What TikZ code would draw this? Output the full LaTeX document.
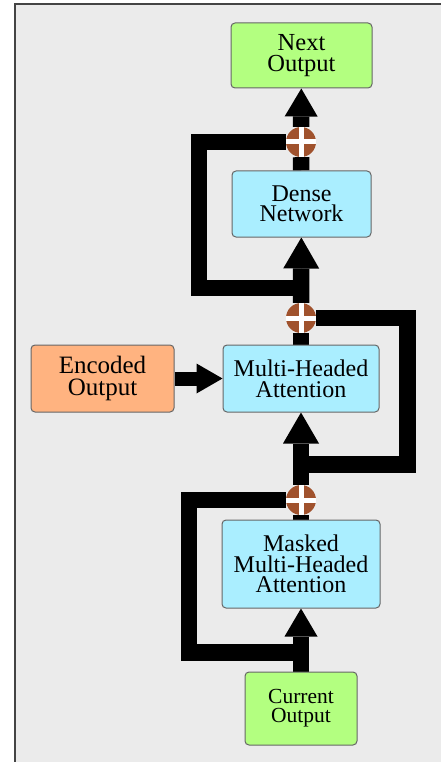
\documentclass[tikz,border=0pt]{standalone}
\usepackage{fontspec}
\setmainfont{Liberation Serif}
\newfontfamily\boxfont{Liberation Serif}
\usetikzlibrary{arrows.meta}
\definecolor{bgcol}{HTML}{EBEBEB}
\definecolor{framecol}{HTML}{444444}
\definecolor{greenbox}{HTML}{B3FF80}
\definecolor{bluebox}{HTML}{AAEEFF}
\definecolor{orangebox}{HTML}{FFB380}
\definecolor{plusbrown}{HTML}{A0522D}
\definecolor{boxrim}{HTML}{666666}
\pgfdeclarelayer{back}
\pgfsetlayers{back,main}
\begin{document}
\begin{tikzpicture}[x=1pt,y=-1pt,
  box/.style={draw=boxrim, line width=1pt, rounded corners=4pt, inner sep=0pt, align=center, anchor=center},
  greenb/.style={box, fill=greenbox},
  blueb/.style={box, fill=bluebox},
  orangeb/.style={box, fill=orangebox},
  flow/.style={line width=16.5pt, line join=miter},
  bigarrow/.style={flow, -{Triangle[length=31pt,width=36pt,line width=0pt]}},
  smallarrow/.style={flow, -{Triangle[length=28pt,width=33pt,line width=0pt]}},
  sidearrow/.style={line width=14pt, -{Triangle[length=26pt,width=30pt,line width=0pt]}},
  plusc/.style={circle, fill=plusbrown, minimum size=30pt, inner sep=0pt},
  crossbar/.style={white, line width=5pt}
]
\useasboundingbox (0,0) rectangle (440,762);
\clip (0,0) rectangle (440,762);

% boxes
\node[greenb, minimum width=141pt, minimum height=65pt, font=\boxfont\fontsize{24.5}{21.5}\selectfont] (next) at (301.5,55.5) {Next\\Output};
\node[blueb, minimum width=139pt, minimum height=66pt, font=\boxfont\fontsize{24}{20.5}\selectfont] (dense) at (301.5,204) {Dense\\Network};
\node[blueb, minimum width=156pt, minimum height=67pt, font=\boxfont\fontsize{24}{21}\selectfont] (mha) at (301,378.5) {Multi-Headed\\Attention};
\node[orangeb, minimum width=143pt, minimum height=67pt, font=\boxfont\fontsize{25}{21.5}\selectfont] (enc) at (102.5,378.5) {Encoded\\Output};
\node[blueb, minimum width=158pt, minimum height=88pt, font=\boxfont\fontsize{24}{20.5}\selectfont] (masked) at (301,564) {Masked\\Multi-Headed\\Attention};
\node[greenb, minimum width=112pt, minimum height=73pt, font=\boxfont\fontsize{21.5}{19}\selectfont] (cur) at (301,708.5) {Current\\Output};

% add nodes
\node[plusc] (p1) at (301,142) {};
\node[plusc] (p2) at (301,318) {};
\node[plusc] (p3) at (301,500) {};
\foreach \p in {p1,p2,p3}{
  \draw[crossbar] (\p.west) -- (\p.east);
  \draw[crossbar] (\p.north) -- (\p.south);
}

\coordinate (j1) at (301,288);
\coordinate (j2) at (301,464.5);
\coordinate (j3) at (301,652.5);

\begin{pgfonlayer}{back}
  \fill[bgcol] (15,4) rectangle (470,790);
  \draw[framecol, line width=2pt] (15,4) rectangle (470,790);
  % residual loops
  \draw[flow] (j1) -- ++(-102,0) |- (p1);
  \draw[flow] (j2) -- ++(106.5,0) |- (p2);
  \draw[flow] (j3) -- ++(-112,0) |- (p3);
  % main chain
  \draw[smallarrow] (cur) -- (masked);
  \draw[flow] (masked) -- (p3);
  \draw[bigarrow] (p3) -- (mha);
  \draw[flow] (mha) -- (p2);
  \draw[bigarrow] (p2) -- (dense);
  \draw[flow] (dense) -- (p1);
  \draw[smallarrow] (p1) -- (next);
  \draw[sidearrow] (enc) -- (mha);
\end{pgfonlayer}
\end{tikzpicture}
\end{document}
